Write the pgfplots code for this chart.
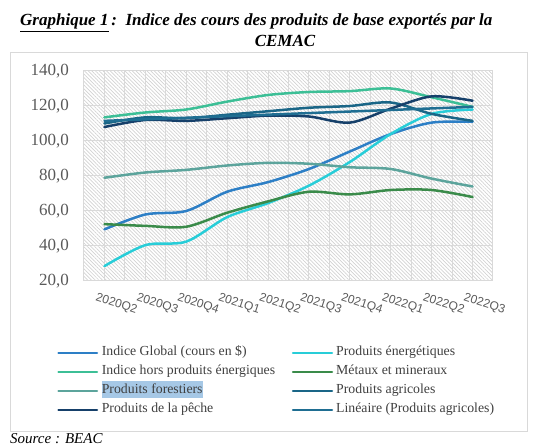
\documentclass[border=0pt]{standalone}
\usepackage{pgfplots}
\pgfplotsset{compat=1.18}
\usepackage{fontspec}
\setmainfont{Liberation Serif}
\newfontfamily\xfont{Liberation Sans}
\usetikzlibrary{patterns.meta}

\definecolor{cGlobal}{HTML}{2D7FC6}
\definecolor{cEner}{HTML}{28CDD8}
\definecolor{cHors}{HTML}{3CBF96}
\definecolor{cMet}{HTML}{3A8B4A}
\definecolor{cFor}{HTML}{5CA49C}
\definecolor{cAgr}{HTML}{1A6687}
\definecolor{cPec}{HTML}{16406A}
\definecolor{cLin}{HTML}{1F6E92}
\definecolor{gridgray}{HTML}{D9D9D9}
\definecolor{hatch}{HTML}{D2D2D2}
\definecolor{labelgray}{HTML}{595959}
\definecolor{legtext}{HTML}{3F3F3F}
\definecolor{hl}{HTML}{A6C8E6}
\definecolor{boxgray}{HTML}{D9D9D9}

\begin{document}
\begin{tikzpicture}
\useasboundingbox (0pt,0pt) rectangle (550pt,-446pt);

% title
\node[anchor=base west, inner sep=0pt, font=\fontsize{17}{20}\selectfont\bfseries\itshape] at (20pt,-26pt)
  {\underline{Graphique 1}\,:\ \ Indice des cours des produits de base exportés par la};
\node[anchor=base, inner sep=0pt, font=\fontsize{17}{20}\selectfont\bfseries\itshape] at (285pt,-47pt) {CEMAC};

% frame
\draw[boxgray, line width=1pt] (10.5pt,-52.5pt) rectangle (527pt,-431.5pt);

\begin{axis}[
  at={(84pt,-281pt)}, anchor=south west,
  scale only axis, width=409pt, height=210pt,
  xmin=-0.5, xmax=9.5, ymin=20, ymax=140,
  xtick={0,...,9},
  xticklabels={2020Q2,2020Q3,2020Q4,2021Q1,2021Q2,2021Q3,2021Q4,2022Q1,2022Q2,2022Q3},
  minor xtick={-0.5,0.5,...,9.5},
  ytick={20,40,...,140},
  grid=both,
  major grid style={draw=gridgray, line width=1pt},
  minor grid style={draw=gridgray, line width=1pt},
  major tick length=0pt, minor tick length=0pt,
  axis line style={draw=gridgray, line width=1pt},
  axis background/.style={pattern={Lines[angle=-45,distance=2.6pt,line width=0.7pt]}, pattern color=hatch},
  yticklabel style={font=\fontsize{17}{20}\selectfont, text=labelgray, inner sep=0pt, anchor=east, xshift=-15pt},
  xticklabel style={font=\xfont\fontsize{12}{14}\selectfont, text=labelgray, inner sep=0pt, anchor=north west, rotate=-18, yshift=-13pt, xshift=-3pt},
  /pgf/number format/fixed,
  /pgf/number format/fixed zerofill,
  /pgf/number format/precision=1,
  /pgf/number format/use comma,
  /pgf/number format/assume math mode=true,
  every axis plot/.append style={smooth, tension=0.5, line width=2.5pt, line cap=round, line join=round},
]
\addplot[cGlobal] coordinates {(0,49.5)(1,58)(2,60)(3,71)(4,76.5)(5,84)(6,94)(7,104)(8,110.5)(9,111)};
\addplot[cEner] coordinates {(0,28.5)(1,40.5)(2,42.5)(3,56.5)(4,64.5)(5,74.5)(6,88)(7,104)(8,115.5)(9,118)};
\addplot[cHors] coordinates {(0,113.5)(1,116.3)(2,118)(3,122.5)(4,126.3)(5,128)(6,128.5)(7,130)(8,125)(9,119.5)};
\addplot[cMet] coordinates {(0,52.5)(1,51.5)(2,51)(3,59)(4,65.5)(5,71)(6,69.5)(7,72)(8,72)(9,68)};
\addplot[cFor] coordinates {(0,79)(1,82)(2,83.5)(3,86)(4,87.5)(5,87)(6,85)(7,84)(8,78.5)(9,74)};
\addplot[cAgr] coordinates {(0,110)(1,113.5)(2,113)(3,115)(4,117)(5,119)(6,120)(7,122)(8,115.5)(9,111.5)};
\addplot[cPec] coordinates {(0,108)(1,112)(2,111.5)(3,113)(4,114.5)(5,114)(6,110.5)(7,118.5)(8,125.5)(9,123)};
\addplot[cLin, sharp plot] coordinates {(0,111.5)(9,119.5)};
\end{axis}

% legend
\tikzset{legtxt/.style={anchor=mid west, inner sep=0pt, text=legtext, font=\fontsize{13.8}{16}\selectfont},
         legln/.style={line width=2.5pt, line cap=round}}
\draw[legln, cGlobal] (58.5pt,-352.8pt) -- (97pt,-352.8pt);
\node[legtxt] at (101.6pt,-352.8pt) {Indice Global (cours en \$)};
\draw[legln, cEner] (293pt,-352.8pt) -- (332pt,-352.8pt);
\node[legtxt] at (336pt,-352.8pt) {Produits énergétiques};

\draw[legln, cHors] (58.5pt,-371.9pt) -- (97pt,-371.9pt);
\node[legtxt] at (101.6pt,-371.9pt) {Indice hors produits énergiques};
\draw[legln, cMet] (293pt,-371.9pt) -- (332pt,-371.9pt);
\node[legtxt] at (336pt,-371.9pt) {Métaux et mineraux};

\draw[legln, cFor] (58.5pt,-391pt) -- (97pt,-391pt);
\node[legtxt, fill=hl, inner ysep=2pt, text height=10pt, text depth=3pt] at (101.6pt,-391pt) {Produits forestiers};
\draw[legln, cAgr] (293pt,-391pt) -- (332pt,-391pt);
\node[legtxt] at (336pt,-391pt) {Produits agricoles};

\draw[legln, cPec] (58.5pt,-410pt) -- (97pt,-410pt);
\node[legtxt] at (101.6pt,-410pt) {Produits de la pêche};
\draw[legln, cLin] (293pt,-410pt) -- (332pt,-410pt);
\node[legtxt] at (336pt,-410pt) {Linéaire (Produits agricoles)};

% source
\node[anchor=base west, inner sep=0pt, font=\fontsize{15}{17}\selectfont\itshape] at (10pt,-444pt) {Source : BEAC};
\end{tikzpicture}
\end{document}
